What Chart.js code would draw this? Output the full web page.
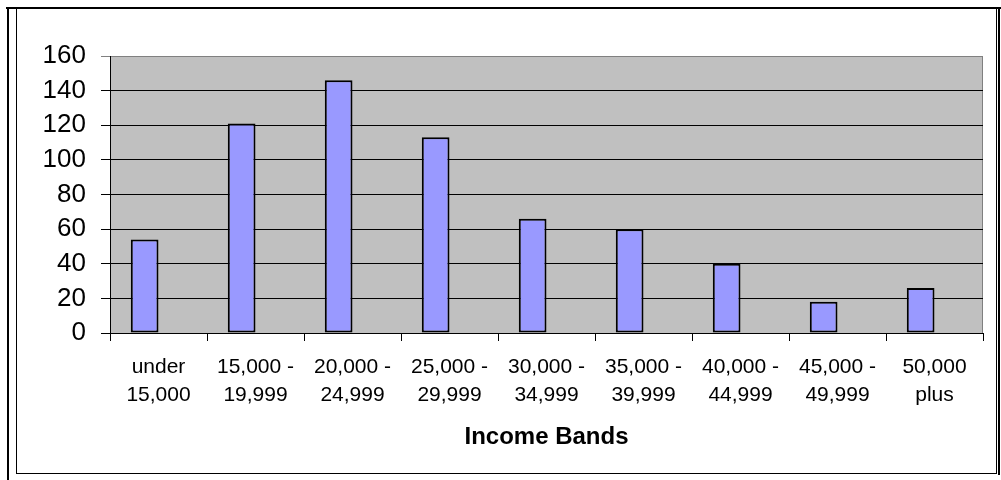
<!DOCTYPE html>
<html>
<head>
<meta charset="utf-8">
<title>Income Bands</title>
<script src="https://cdn.jsdelivr.net/npm/chart.js@4/dist/chart.umd.min.js"></script>
<style>
  html, body { margin: 0; padding: 0; background: #ffffff; }
  canvas { display: block; }
</style>
</head>
<body>
<canvas id="chart" width="1001" height="480"></canvas>
<script>
// Income bands along the horizontal axis (two-line labels)
const categories = [
  ['under', '15,000'],
  ['15,000 -', '19,999'],
  ['20,000 -', '24,999'],
  ['25,000 -', '29,999'],
  ['30,000 -', '34,999'],
  ['35,000 -', '39,999'],
  ['40,000 -', '44,999'],
  ['45,000 -', '49,999'],
  ['50,000', 'plus']
];

// Count of people in each band
const bandCounts = [54, 121, 146, 113, 66, 60, 40, 18, 26];

// Second series of the workbook: no entries, but it keeps its slot in each group
const reservedSeries = [null, null, null, null, null, null, null, null, null];

// Value axis ticks
const yTicks = [0, 20, 40, 60, 80, 100, 120, 140, 160];

const xTitle = 'Income Bands';

// Grey plot area and the frame around the whole chart
const backdrop = {
  id: 'backdrop',
  beforeDraw(chart) {
    const { ctx, chartArea: a } = chart;
    ctx.save();
    ctx.fillStyle = '#c0c0c0';
    ctx.fillRect(a.left, a.top, a.right - a.left, a.bottom - a.top);
    ctx.strokeStyle = '#808080';
    ctx.lineWidth = 1;
    ctx.strokeRect(Math.round(a.left) + 0.5, Math.round(a.top) + 0.5,
                   Math.round(a.right - a.left) - 1, Math.round(a.bottom - a.top));

    // chart border
    ctx.strokeStyle = '#000000';
    ctx.lineWidth = 1;
    ctx.strokeRect(16.5, 8.5, 980, 465);
    // outer frame lines
    ctx.lineWidth = 2;
    ctx.beginPath();
    ctx.moveTo(6, 8); ctx.lineTo(1001, 8);
    ctx.moveTo(8, 7); ctx.lineTo(8, 480);
    ctx.moveTo(999, 7); ctx.lineTo(999, 475);
    ctx.stroke();
    ctx.restore();
  }
};

new Chart(document.getElementById('chart'), {
  type: 'bar',
  data: {
    labels: categories,
    datasets: [
      {
        label: 'Count',
        data: bandCounts,
        backgroundColor: '#9999ff',
        borderColor: '#000000',
        borderWidth: 2,
        borderSkipped: false,
        categoryPercentage: 2 / 3.5,
        barPercentage: 1.0
      },
      {
        label: '',
        data: reservedSeries,
        backgroundColor: '#993366',
        borderColor: '#000000',
        borderWidth: 2,
        categoryPercentage: 2 / 3.5,
        barPercentage: 1.0
      }
    ]
  },
  options: {
    responsive: false,
    animation: false,
    devicePixelRatio: 1,
    layout: { padding: { top: 56, right: 18, bottom: 0, left: 0 } },
    plugins: {
      legend: { display: false },
      tooltip: { enabled: false },
      title: { display: false }
    },
    scales: {
      x: {
        offset: true,
        grid: {
          display: true,
          offset: true,
          drawOnChartArea: false,
          drawTicks: true,
          tickLength: 8,
          color: '#000000',
          lineWidth: 1
        },
        border: { display: true, color: '#000000', width: 1 },
        ticks: {
          autoSkip: false,
          maxRotation: 0,
          minRotation: 0,
          padding: 12,
          color: '#000000',
          font: { family: '"Liberation Sans", Arial, sans-serif', size: 21, lineHeight: 1.35 }
        },
        title: {
          display: true,
          text: xTitle,
          color: '#000000',
          padding: { top: 0, bottom: 28 },
          font: { family: '"Liberation Sans", Arial, sans-serif', size: 24, weight: 'bold', lineHeight: 1.2 }
        },
        afterFit(scale) { scale.height = 147; }
      },
      y: {
        min: 0,
        max: 160,
        afterBuildTicks(scale) {
          scale.ticks = yTicks.map(v => ({ value: v }));
        },
        grid: {
          display: true,
          drawTicks: true,
          tickLength: 9,
          lineWidth: 1,
          color: (c) => (c.tick && c.tick.value === 160 ? '#808080' : '#000000')
        },
        border: { display: true, color: '#000000', width: 1 },
        ticks: {
          padding: 15,
          color: '#000000',
          font: { family: '"Liberation Sans", Arial, sans-serif', size: 26, lineHeight: 1.2 }
        },
        afterFit(scale) { scale.width = 110; }
      }
    }
  },
  plugins: [backdrop]
});
</script>
</body>
</html>
